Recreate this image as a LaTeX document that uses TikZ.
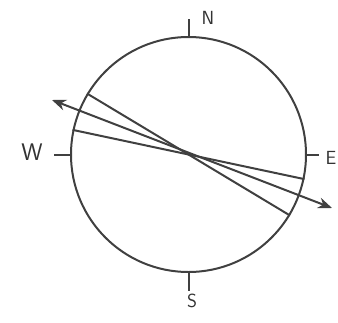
\documentclass[tikz,border=0pt]{standalone}
\usetikzlibrary{arrows.meta}
\begin{document}
\begin{tikzpicture}[x=1pt, y=-1pt, line width=2pt, draw=black!75,
  pen/.style={draw=black!75, line width=2pt},
  lbl/.style={text=black!80, font=\sffamily\fontsize{19}{19}\selectfont, inner sep=0pt},
  pointer/.tip={Stealth[length=14pt, width=11pt]}]
  \useasboundingbox (0,0) rectangle (338,322);
  \node (globe) [circle, pen, minimum size=235pt, inner sep=0pt] at (188.5,154.5) {};
  % compass ticks and letters
  \draw[pen] (globe.north) -- ++(0,-17);
  \draw[pen] (globe.south) -- ++(0,18);
  \draw[pen] (globe.west) -- ++(-16,0);
  \draw[pen] (globe.east) -- ++(12,0);
  \node (north) [lbl] at (208,18) {N};
  \node (south) [lbl] at (192,301) {S};
  \node (west) [lbl, font=\sffamily\fontsize{24}{24}\selectfont] at (32,152) {W};
  \node (east) [lbl] at (331,158) {E};
  % diameters
  \draw[pen] (globe.149) -- (globe.-31);
  \draw[pen] (globe.168) -- (globe.-12);
  \coordinate (wtip) at (52,100);
  \coordinate (etip) at (332,208);
  \draw[pen, pointer-pointer] (wtip) -- (etip);
\end{tikzpicture}
\end{document}
